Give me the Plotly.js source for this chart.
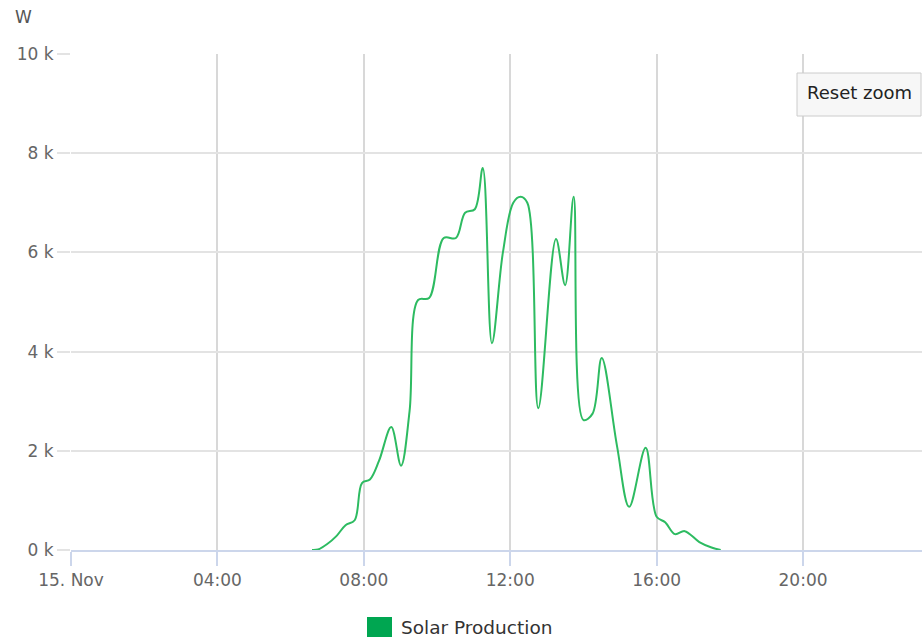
<!DOCTYPE html>
<html>
<head>
<meta charset="utf-8">
<script src="https://cdn.plot.ly/plotly-3.0.1.min.js"></script>
<style>
html,body{margin:0;padding:0;background:#fff;}
#chart{width:922px;height:638px;}
</style>
</head>
<body>
<div id="chart"></div>
<script>
var times = [
  "2023-11-15 06:35","2023-11-15 06:45","2023-11-15 07:00","2023-11-15 07:15","2023-11-15 07:30",
  "2023-11-15 07:45","2023-11-15 07:57","2023-11-15 08:10","2023-11-15 08:25","2023-11-15 08:45",
  "2023-11-15 09:01","2023-11-15 09:15","2023-11-15 09:29","2023-11-15 09:47","2023-11-15 10:11",
  "2023-11-15 10:31","2023-11-15 10:46","2023-11-15 11:02","2023-11-15 11:15","2023-11-15 11:30",
  "2023-11-15 11:48","2023-11-15 12:05","2023-11-15 12:17","2023-11-15 12:28","2023-11-15 12:46",
  "2023-11-15 13:15","2023-11-15 13:30","2023-11-15 13:44","2023-11-15 14:00","2023-11-15 14:15",
  "2023-11-15 14:30","2023-11-15 14:55","2023-11-15 15:15","2023-11-15 15:42","2023-11-15 16:00",
  "2023-11-15 16:14","2023-11-15 16:30","2023-11-15 16:46","2023-11-15 17:10","2023-11-15 17:30",
  "2023-11-15 17:45"
];
var solarW = [
  0, 10, 120, 280, 500,
  600, 1350, 1420, 1800, 2480,
  1700, 2800, 5040, 5080, 6290,
  6290, 6800, 6870, 7700, 4170,
  6000, 7000, 7120, 7000, 2860,
  6270, 5340, 7120, 2620, 2750,
  3870, 2100, 870, 2060, 670,
  560, 320, 380, 160, 50,
  0
];
var xTickVals = ["2023-11-15 00:00","2023-11-15 04:00","2023-11-15 08:00","2023-11-15 12:00","2023-11-15 16:00","2023-11-15 20:00"];
var xTickText = ["15. Nov","04:00","08:00","12:00","16:00","20:00"];
var yTickVals = [0,2000,4000,6000,8000,10000];
var yTickText = ["0 k","2 k","4 k","6 k","8 k","10 k"];
var seriesName = "Solar Production";
var lineColor = "#2dbb61";

var font = "DejaVu Sans, Verdana, sans-serif";

var trace = {
  x: times, y: solarW, type: "scatter", mode: "lines",
  name: seriesName,
  line: {color: lineColor, width: 2, shape: "spline", smoothing: 1},
  hoverinfo: "x+y"
};

function px(x){ return (x-71)/851; }
function py(y){ return (550-y)/496; }

var layout = {
  width: 922, height: 638,
  margin: {l: 71, r: 0, t: 54, b: 88},
  paper_bgcolor: "#fff", plot_bgcolor: "#fff",
  showlegend: false,
  font: {family: font, color: "#666", size: 16},
  xaxis: {
    type: "date",
    range: ["2023-11-15 00:00","2023-11-15 23:15"],
    tickmode: "array", tickvals: xTickVals, ticktext: xTickText,
    showgrid: true, gridcolor: "#d8d8d8", gridwidth: 1.5,
    showline: true, linecolor: "#ccd6eb", linewidth: 1.5,
    ticks: "outside", ticklen: 14, tickcolor: "#ccd6eb", tickwidth: 1.5,
    tickfont: {family: font, size: 17, color: "#666"},
    zeroline: false, fixedrange: true
  },
  yaxis: {
    range: [0, 10000],
    tickmode: "array", tickvals: yTickVals, ticktext: yTickText,
    showgrid: true, gridcolor: "#e3e3e3", gridwidth: 1.5,
    showline: false, zeroline: false,
    ticks: "outside", ticklen: 13, tickcolor: "#e3e3e3", tickwidth: 1.5,
    tickfont: {family: font, size: 17, color: "#666"},
    fixedrange: true
  },
  shapes: [
    {type: "rect", xref: "paper", yref: "paper",
     x0: px(367), x1: px(392), y0: py(637), y1: py(617),
     fillcolor: "#00a651", line: {width: 0}},
    {type: "rect", xref: "paper", yref: "paper",
     x0: px(797), x1: px(921), y0: py(116), y1: py(73),
     fillcolor: "#f7f7f7", line: {color: "#cccccc", width: 1}}
  ],
  annotations: [
    {text: "W", xref: "paper", yref: "paper", x: px(13), y: py(17),
     xanchor: "left", yanchor: "middle", showarrow: false,
     font: {family: font, size: 17, color: "#555"}},
    {text: seriesName, xref: "paper", yref: "paper", x: px(399), y: py(627),
     xanchor: "left", yanchor: "middle", showarrow: false,
     font: {family: font, size: 18.5, color: "#333"}},
    {text: "Reset zoom", xref: "paper", yref: "paper", x: px(859), y: py(92),
     xanchor: "center", yanchor: "middle", showarrow: false,
     font: {family: font, size: 18, color: "#222"}}
  ]
};

Plotly.newPlot("chart", [trace], layout, {displayModeBar: false});
</script>
</body>
</html>
